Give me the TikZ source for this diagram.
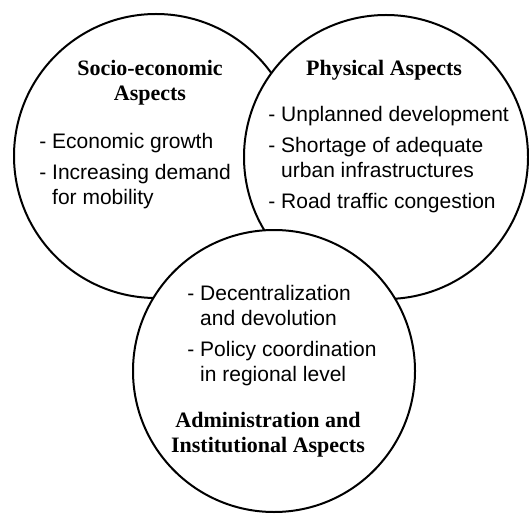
\documentclass[tikz,border=0pt]{standalone}
\usepackage{fontspec}
\setmainfont{Liberation Serif}
\setsansfont{Liberation Sans}

\begin{document}
\begin{tikzpicture}[x=0.5pt,y=-0.5pt,
    field/.style={circle,draw=black,line width=1pt,fill=white,minimum size=142pt,inner sep=0pt},
    heading/.style={font=\fontsize{11}{12.3}\selectfont\bfseries,align=center,inner sep=0pt,anchor=north},
    points/.style={font=\fontsize{10.5}{12.5}\selectfont\sffamily,align=left,inner sep=0pt,anchor=north west}]
\useasboundingbox (0,0) rectangle (529,513);

% circles, each one laid over the ones before
\node[field] (socio) at (156,156) {};
\node[field] (physical) at (386,157) {};
\node[field,minimum size=141pt] (admin) at (274,371) {};

\node[heading] (socio title) at (150,60) {Socio-economic\\Aspects};
\node[points] (socio list) at (39,133) {- Economic growth\\[3pt]- Increasing demand\\\phantom{- }for mobility};

\node[heading] (physical title) at (384,60) {Physical Aspects};
\node[points] (physical list) at (268,106) {- Unplanned development\\[3pt]- Shortage of adequate\\\phantom{- }urban infrastructures\\[3pt]- Road traffic congestion};

\node[points] (admin list) at (187,285) {- Decentralization\\\phantom{- }and devolution\\[3pt]- Policy coordination\\\phantom{- }in regional level};
\node[heading] (admin title) at (268,412) {Administration and\\Institutional Aspects};

\end{tikzpicture}
\end{document}
